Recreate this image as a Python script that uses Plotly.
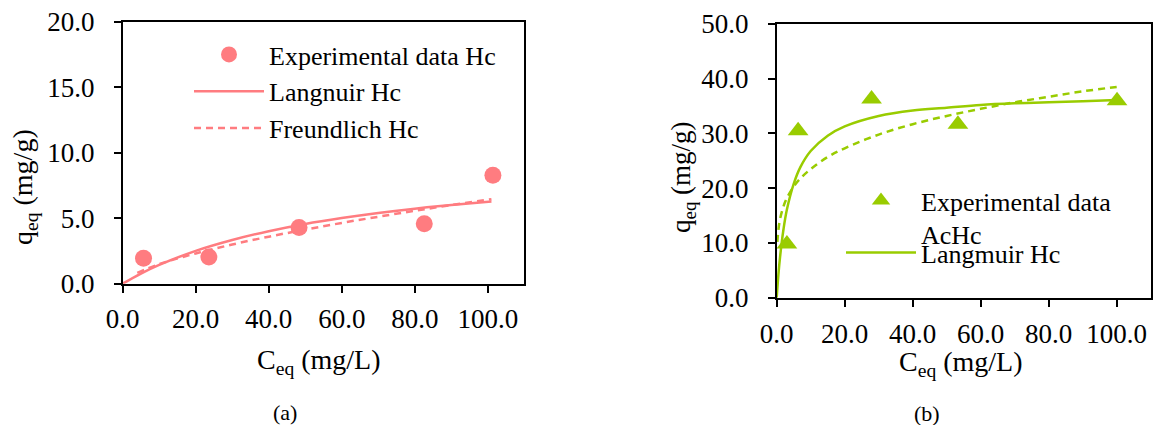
import plotly.graph_objects as go

W, H = 1157, 425
FONT = "'Liberation Serif', 'Times New Roman', Times, 'DejaVu Serif', serif"
PINK = "#FF7C80"
GREEN = "#99CC00"

# ---- (a) Hc ----
hc_exp_x = [5.7, 23.6, 48.3, 82.6, 101.4]
hc_exp_y = [1.95, 2.03, 4.29, 4.57, 8.28]
hc_lang_x = [0, 5, 10, 20, 30, 40, 50, 60, 70, 80, 90, 101]
hc_lang_y = [0, 0.77, 1.43, 2.51, 3.34, 4.01, 4.56, 5.01, 5.40, 5.73, 6.01, 6.28]
hc_freu_x = [4, 10, 20, 30, 40, 50, 60, 70, 80, 90, 101]
hc_freu_y = [0.83, 1.49, 2.31, 2.99, 3.59, 4.13, 4.64, 5.11, 5.57, 6.00, 6.45]

# ---- (b) AcHc ----
achc_exp_x = [3.0, 6.3, 27.9, 53.3, 100.1]
achc_exp_y = [9.8, 30.5, 36.3, 31.7, 36.0]
achc_lang_x = [0, 0.5, 1, 2, 3, 5, 7, 10, 15, 20, 30, 40, 50, 60, 70, 80, 90, 100]
achc_lang_y = [0, 4.2, 7.5, 12.5, 16.1, 20.8, 23.9, 26.8, 29.6, 31.3, 33.2, 34.2, 34.7, 35.2, 35.5, 35.7, 35.9, 36.1]
achc_freu_x = [0.2, 0.5, 1, 2, 3, 5, 7, 10, 15, 20, 30, 40, 50, 60, 70, 80, 90, 100]
achc_freu_y = [10.2, 12.4, 14.4, 16.7, 18.2, 20.3, 21.8, 23.5, 25.7, 27.3, 29.8, 31.7, 33.2, 34.5, 35.7, 36.7, 37.7, 38.5]

x_ticks = [0, 20, 40, 60, 80, 100]
ya_ticks = [0, 5, 10, 15, 20]
yb_ticks = [0, 10, 20, 30, 40, 50]

fig = go.Figure()
fig.add_trace(go.Scatter(x=hc_exp_x, y=hc_exp_y, mode="markers", name="Experimental data Hc",
                         marker=dict(color=PINK, size=17, symbol="circle"),
                         xaxis="x", yaxis="y", legend="legend"))
fig.add_trace(go.Scatter(x=hc_lang_x, y=hc_lang_y, mode="lines", name="Langnuir Hc",
                         line=dict(color=PINK, width=2.5, shape="spline"),
                         xaxis="x", yaxis="y", legend="legend"))
fig.add_trace(go.Scatter(x=hc_freu_x, y=hc_freu_y, mode="lines", name="Freundlich Hc",
                         line=dict(color=PINK, width=2.5, dash="7px,5px", shape="spline"),
                         xaxis="x", yaxis="y", legend="legend"))

fig.add_trace(go.Scatter(x=achc_exp_x, y=achc_exp_y, mode="markers", name="Experimental data<br>AcHc",
                         marker=dict(color=GREEN, size=18, symbol="triangle-up"),
                         xaxis="x2", yaxis="y2", legend="legend2"))
fig.add_trace(go.Scatter(x=achc_lang_x, y=achc_lang_y, mode="lines", name="Langmuir Hc",
                         line=dict(color=GREEN, width=2.5, shape="spline"),
                         xaxis="x2", yaxis="y2", legend="legend3"))
fig.add_trace(go.Scatter(x=achc_freu_x, y=achc_freu_y, mode="lines", name="Freundlich AcHc",
                         line=dict(color=GREEN, width=2.5, dash="7px,5px", shape="spline"),
                         xaxis="x2", yaxis="y2", showlegend=False))

tickfont = dict(family=FONT, size=27, color="black")
common = dict(showline=True, linecolor="black", linewidth=1.8, mirror=True, ticks="outside",
              ticklen=7, tickwidth=1.5, tickcolor="black", showgrid=False, zeroline=False,
              tickfont=tickfont, tickformat=".1f", fixedrange=True, automargin=False)

def px_x(p):
    return p / W

def px_y(p):
    return 1 - p / H

fig.update_layout(
    template="none",
    width=W, height=H, margin=dict(l=0, r=0, t=0, b=0, autoexpand=False),
    paper_bgcolor="white", plot_bgcolor="white",
    font=dict(family=FONT, color="black"),
    xaxis=dict(domain=[px_x(122.7), px_x(524.3)], range=[0, 110], tickvals=x_ticks,
               anchor="y", ticklabelstandoff=3, **common),
    yaxis=dict(domain=[px_y(283.7), px_y(21.7)], range=[0, 20], tickvals=ya_ticks,
               anchor="x", ticklabelstandoff=14, **common),
    xaxis2=dict(domain=[px_x(776.7), px_x(1150.7)], range=[0, 110], tickvals=x_ticks,
                anchor="y2", ticklabelstandoff=4, **common),
    yaxis2=dict(domain=[px_y(297.7), px_y(24)], range=[0, 50], tickvals=yb_ticks,
                anchor="x2", ticklabelstandoff=14, **common),
    legend=dict(x=px_x(189), y=px_y(31), xanchor="left", yanchor="top",
                font=dict(family=FONT, size=26, color="black"), itemwidth=70,
                bgcolor="rgba(0,0,0,0)", borderwidth=0, tracegroupgap=0),
    legend2=dict(x=px_x(841), y=px_y(177), xanchor="left", yanchor="top", valign="top",
                 font=dict(family=FONT, size=26, color="black"), itemwidth=70,
                 bgcolor="rgba(0,0,0,0)", borderwidth=0),
    legend3=dict(x=px_x(841), y=px_y(229), xanchor="left", yanchor="top",
                 font=dict(family=FONT, size=26, color="black"), itemwidth=70,
                 bgcolor="rgba(0,0,0,0)", borderwidth=0),
)

ann = [
    dict(text="q<sub>eq</sub> (mg/g)", x=px_x(25), y=px_y(187), textangle=-90, size=28),
    dict(text="C<sub>eq</sub> (mg/L)", x=px_x(319), y=px_y(361), textangle=0, size=28),
    dict(text="(a)", x=px_x(285), y=px_y(412), textangle=0, size=22),
    dict(text="q<sub>eq</sub> (mg/g)", x=px_x(683), y=px_y(177), textangle=-90, size=27),
    dict(text="C<sub>eq</sub> (mg/L)", x=px_x(961), y=px_y(363), textangle=0, size=28),
    dict(text="(b)", x=px_x(926.7), y=px_y(413), textangle=0, size=22),
]
for a in ann:
    fig.add_annotation(text=a["text"], x=a["x"], y=a["y"], xref="paper", yref="paper",
                       xanchor="center", yanchor="middle", showarrow=False, textangle=a["textangle"],
                       font=dict(family=FONT, size=a["size"], color="black"))

fig.write_html("out.html", config={"displayModeBar": False})
